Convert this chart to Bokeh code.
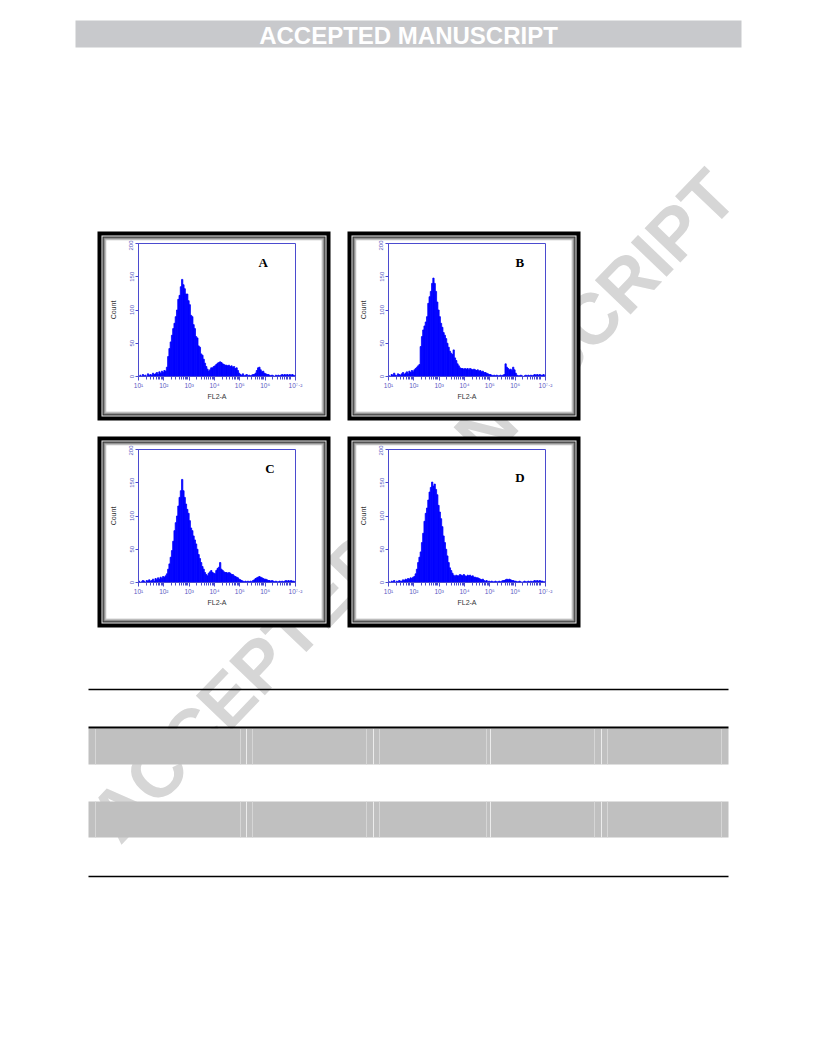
from bokeh.plotting import figure
from bokeh.models import Range1d, FixedTicker, Label
from bokeh.layouts import column
from bokeh.embed import file_html
from bokeh.resources import INLINE
from bokeh.core.properties import value

# ---------------- data ----------------
# histogram channels: log10(FL2-A) bins starting at 10^1, 0.05 decade wide
log_bin_start = 1.0
log_bin_width = 0.05

counts_A = [0, 2, 0, 3, 1, 2, 0, 4, 2, 3,
            2, 5, 3, 4, 6, 3, 7, 5, 8, 6,
            9, 8, 14, 30, 42, 52, 62, 72, 80, 90,
            100, 116, 122, 135, 146, 138, 132, 124, 124, 114,
            108, 92, 90, 78, 72, 60, 58, 46, 44, 34,
            32, 26, 20, 15, 11, 8, 10, 13, 13, 15,
            16, 18, 20, 21, 22, 21, 19, 18, 17, 17,
            16, 17, 15, 16, 14, 15, 12, 13, 9, 5,
            3, 2, 4, 1, 2, 3, 1, 2, 1, 2,
            3, 3, 5, 9, 13, 14, 10, 7, 8, 5,
            4, 3, 3, 2, 1, 2, 1, 0, 2, 1,
            2, 1, 2, 3, 2, 3, 2, 3, 2, 3,
            2, 3, 2, 1]

counts_B = [1, 0, 3, 2, 5, 2, 1, 4, 3, 2,
            4, 6, 3, 5, 7, 4, 8, 6, 9, 7,
            10, 12, 14, 16, 18, 45, 60, 70, 76, 82,
            90, 110, 120, 128, 140, 148, 140, 128, 112, 100,
            90, 80, 74, 66, 62, 57, 50, 44, 38, 35,
            33, 40, 28, 24, 19, 16, 13, 12, 12, 11,
            12, 11, 12, 10, 12, 11, 10, 11, 10, 9,
            10, 8, 9, 7, 8, 6, 6, 5, 4, 3,
            3, 2, 1, 2, 1, 2, 1, 1, 2, 1,
            2, 3, 19, 14, 12, 10, 11, 9, 14, 10,
            5, 2, 1, 1, 2, 1, 0, 1, 2, 1,
            2, 1, 2, 1, 2, 3, 2, 3, 2, 3,
            2, 2, 3, 1]

counts_C = [2, 0, 1, 3, 2, 0, 3, 2, 4, 2,
            3, 5, 2, 6, 4, 7, 5, 8, 6, 9,
            8, 10, 13, 20, 28, 38, 48, 62, 78, 90,
            100, 115, 128, 138, 155, 138, 128, 118, 110, 104,
            93, 82, 78, 70, 64, 58, 50, 42, 36, 30,
            24, 20, 15, 12, 10, 14, 16, 18, 15, 14,
            13, 18, 21, 23, 30, 20, 18, 16, 15, 15,
            14, 15, 14, 12, 12, 10, 9, 8, 7, 5,
            4, 3, 2, 1, 2, 1, 2, 1, 2, 1,
            3, 4, 6, 7, 8, 9, 8, 7, 6, 5,
            5, 4, 3, 3, 2, 3, 2, 1, 2, 1,
            1, 2, 1, 2, 1, 2, 3, 2, 3, 2,
            3, 2, 2, 1]

counts_D = [1, 0, 2, 1, 3, 0, 2, 1, 3, 2,
            2, 4, 3, 5, 4, 6, 5, 7, 6, 8,
            9, 13, 20, 30, 38, 46, 60, 74, 92, 104,
            112, 124, 136, 143, 151, 145, 148, 140, 132, 116,
            106, 96, 84, 70, 60, 50, 40, 30, 22, 18,
            14, 11, 9, 11, 10, 10, 12, 11, 10, 12,
            10, 9, 11, 10, 11, 9, 10, 8, 8, 7,
            7, 6, 5, 4, 5, 3, 2, 3, 1, 2,
            1, 2, 1, 1, 2, 1, 1, 2, 1, 2,
            3, 3, 4, 5, 4, 5, 4, 3, 3, 2,
            2, 1, 1, 2, 1, 0, 1, 2, 1, 1,
            2, 1, 2, 1, 2, 3, 2, 3, 2, 3,
            2, 2, 1, 1]

panel_letters = ["A", "B", "C", "D"]
y_ticks = [0, 50, 100, 150, 200]
x_major_exponents = [1, 2, 3, 4, 5, 6, 7.2]
x_major_labels = ["10\u00b9", "10\u00b2", "10\u00b3", "10\u2074", "10\u2075", "10\u2076", "10\u2077\u00b7\u00b2"]
x_axis_title = "FL2-A"
y_axis_title = "Count"
banner_text = "ACCEPTED MANUSCRIPT"
watermark_text = "ACCEPTED MANUSCRIPT"

# ---------------- styling ----------------
BLUE = "#4b4bcf"
LBL_BLUE = "#5a5ac4"
BAR_BLUE = "#0000ff"
FONT = "Liberation Sans"

PAGE_W, PAGE_H = 808, 900
PANEL_BL, PANEL_BR = 32, 26          # panel side borders (the column aligns frames to them)
panel_outer = {  # x0, y0, x1, y1 in page pixels
    "A": (97, 231, 330, 420),
    "B": (347, 231, 580, 420),
    "C": (97, 436, 330, 627),
    "D": (347, 436, 580, 627),
}
ring_layers = [(0, "#000000"), (4, "#f2f2f2"), (5, "#2b2b2b"), (6, "#7d7d7d"),
               (7, "#a8a8a8"), (8, "#d2d2d2"), (9, "#ffffff")]


def decorate(p):
    # watermark (behind everything)
    p.text(x=[412], y=[505], text=[watermark_text], angle=0.806,
           text_font=value(FONT), text_font_style="bold", text_font_size="72px",
           text_color="#d6d6d6", text_align="center", text_baseline="middle")
    # banner
    p.quad(left=[75], right=[741], top=[20], bottom=[47], fill_color="#c8c9cc", line_color=None)
    p.text(x=[408], y=[34.5], text=[banner_text], text_font=value(FONT),
           text_font_style="bold", text_font_size="24px", text_color="white",
           text_align="center", text_baseline="middle")
    # panel frames
    L, R, T, B, C = [], [], [], [], []
    for key in ["A", "B", "C", "D"]:
        x0, y0, x1, y1 = panel_outer[key]
        for inset, col in ring_layers:
            L.append(x0 + inset); R.append(x1 - inset)
            T.append(y0 + inset); B.append(y1 - inset); C.append(col)
    p.quad(left=L, right=R, top=T, bottom=B, fill_color=C, line_color=None)
    # table
    p.quad(left=[88, 88], right=[728, 728], top=[728, 801], bottom=[764, 837],
           fill_color="#c0c0c0", line_color=None)
    seps_light = [95, 240, 252, 366, 379, 486, 594, 607, 721]
    seps_white = [246, 373, 490, 601]
    for xs, colr in ((seps_light, "#d6d6d6"), (seps_white, "#ececec")):
        p.segment(x0=xs * 2, x1=xs * 2, y0=[728] * len(xs) + [801] * len(xs),
                  y1=[764] * len(xs) + [837] * len(xs), line_color=colr, line_width=1)
    p.segment(x0=[88], x1=[728], y0=[689], y1=[689], line_color="black", line_width=1.3)
    p.segment(x0=[88], x1=[728], y0=[727], y1=[727], line_color="black", line_width=2)
    p.segment(x0=[88], x1=[728], y0=[876], y1=[876], line_color="black", line_width=1.5)


bg = figure(width=PAGE_W, height=PAGE_H,
            x_range=Range1d(PANEL_BL, PAGE_W - PANEL_BR), y_range=Range1d(PAGE_H, 0),
            output_backend="svg", toolbar_location=None, tools="",
            x_axis_location=None, y_axis_location=None,
            min_border_left=PANEL_BL, min_border_right=PANEL_BR,
            min_border_top=0, min_border_bottom=0)
bg.outline_line_color = None
bg.background_fill_color = "white"
bg.border_fill_color = "white"
bg.xgrid.visible = False
bg.ygrid.visible = False
decorate(bg)

major_ticks = [10 ** e for e in x_major_exponents]
minor_ticks = [m * 10 ** n for n in range(1, 7) for m in range(2, 10)] + [10 ** 7]


def hist_fig(counts, letter, letter_xy, left, top, width, height, top_b, bottom_b):
    p = figure(width=width, height=height, x_axis_type="log",
               x_range=Range1d(10, 10 ** 7.2), y_range=Range1d(0, 200),
               output_backend="svg", toolbar_location=None, tools="",
               min_border_left=PANEL_BL, min_border_right=PANEL_BR,
               min_border_top=top_b, min_border_bottom=bottom_b)
    p.styles = {"position": "absolute", "left": f"{left}px", "top": f"{top}px"}
    p.title.visible = False
    p.background_fill_color = "white"
    p.border_fill_color = "white"
    p.outline_line_color = BLUE
    p.outline_line_width = 1
    p.xgrid.visible = False
    p.ygrid.visible = False

    lefts = [10 ** (log_bin_start + i * log_bin_width) for i in range(len(counts))]
    rights = [10 ** (log_bin_start + (i + 1) * log_bin_width) for i in range(len(counts))]
    p.quad(left=lefts, right=rights, bottom=[0] * len(counts), top=counts,
           fill_color=BAR_BLUE, line_color=BAR_BLUE, line_width=0.8)

    xa = p.xaxis[0]
    xa.ticker = FixedTicker(ticks=major_ticks, minor_ticks=minor_ticks)
    xa.major_label_overrides = {t: lab for t, lab in zip(major_ticks, x_major_labels)}
    xa.major_label_text_font = FONT
    xa.major_label_text_font_size = "6.5px"
    xa.major_label_text_color = LBL_BLUE
    xa.major_label_standoff = 1
    xa.axis_line_color = BLUE
    xa.major_tick_line_color = BLUE
    xa.minor_tick_line_color = BLUE
    xa.major_tick_out = 4
    xa.major_tick_in = 0
    xa.minor_tick_out = 3
    xa.minor_tick_in = 0
    xa.axis_label = x_axis_title
    xa.axis_label_text_font = FONT
    xa.axis_label_text_font_size = "7px"
    xa.axis_label_text_font_style = "normal"
    xa.axis_label_text_color = "#333333"
    xa.axis_label_standoff = 1

    ya = p.yaxis[0]
    ya.ticker = FixedTicker(ticks=y_ticks)
    ya.major_label_orientation = "vertical"
    ya.major_label_text_font = FONT
    ya.major_label_text_font_size = "6px"
    ya.major_label_text_color = LBL_BLUE
    ya.major_label_standoff = 2
    ya.axis_line_color = BLUE
    ya.major_tick_line_color = BLUE
    ya.minor_tick_line_color = None
    ya.major_tick_out = 3
    ya.major_tick_in = 0
    ya.axis_label = y_axis_title
    ya.axis_label_text_font = FONT
    ya.axis_label_text_font_size = "7px"
    ya.axis_label_text_font_style = "normal"
    ya.axis_label_text_color = "#333333"
    ya.axis_label_standoff = 10

    p.add_layout(Label(x=10 ** letter_xy[0], y=letter_xy[1], text=letter,
                       text_font="Liberation Serif", text_font_style="bold",
                       text_font_size="13px", text_color="black",
                       text_align="center", text_baseline="middle"))
    return p


letter_pos = {"A": (5.92, 171), "B": (6.19, 172), "C": (6.19, 172), "D": (6.19, 158)}

pA = hist_fig(counts_A, "A", letter_pos["A"], 106, 240, 215, 171, 3, 35)
pB = hist_fig(counts_B, "B", letter_pos["B"], 356, 240, 215, 171, 3, 35)
pC = hist_fig(counts_C, "C", letter_pos["C"], 106, 445, 215, 173, 4, 36)
pD = hist_fig(counts_D, "D", letter_pos["D"], 356, 445, 215, 173, 4, 36)

page = column(bg, pA, pB, pC, pD, spacing=0)
page.styles = {"position": "relative"}

open("out.html", "w").write(file_html(page, INLINE))
